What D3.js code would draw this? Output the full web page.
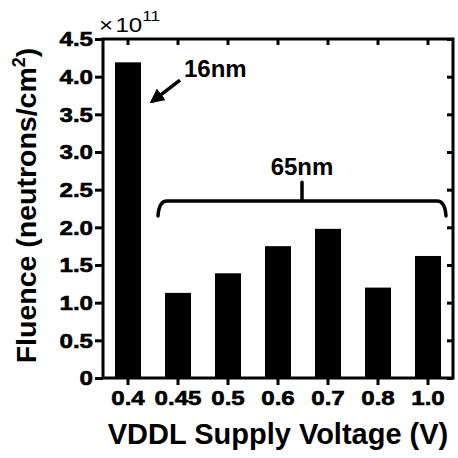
<!DOCTYPE html>
<html>
<head>
<meta charset="utf-8">
<script src="https://cdn.jsdelivr.net/npm/d3@7"></script>
<style>
  html, body { margin: 0; padding: 0; background: #fff; }
  svg { display: block; font-family: Arial, "Liberation Sans", Helvetica, sans-serif; }
</style>
</head>
<body>
<svg id="chart" width="458" height="458"></svg>
<script>
// Supply voltages (x categories) and measured fluence (×10^11 neutrons/cm²)
const voltages = ["0.4", "0.45", "0.5", "0.6", "0.7", "0.8", "1.0"];
const fluence  = [4.19, 1.13, 1.39, 1.75, 1.98, 1.20, 1.62];
const yTicks   = [0, 0.5, 1.0, 1.5, 2.0, 2.5, 3.0, 3.5, 4.0, 4.5];
const yTickLabels = ["0", "0.5", "1.0", "1.5", "2.0", "2.5", "3.0", "3.5", "4.0", "4.5"];

const svg = d3.select("#chart");
const m = { left: 103, right: 5, top: 39, bottom: 80 };
const W = 458, H = 458;
const x0 = m.left, x1 = W - m.right, y0 = H - m.bottom, y1 = m.top;

const x = d3.scaleBand().domain(voltages).range([x0, x1])
  .paddingInner(0.48).paddingOuter(0.24);
const y = d3.scaleLinear().domain([0, 4.5]).range([y0, y1]);

// bars
svg.append("g").selectAll("rect")
  .data(voltages.map((v, i) => ({ v, f: fluence[i] })))
  .join("rect")
  .attr("x", d => x(d.v))
  .attr("width", x.bandwidth())
  .attr("y", d => y(d.f))
  .attr("height", d => y(0) - y(d.f))
  .attr("fill", "#000");

const tickFont = 21;

// bottom axis (ticks outward) and top mirror (ticks inward)
const axB = svg.append("g").attr("transform", `translate(0,${y0})`)
  .call(d3.axisBottom(x).tickSize(7).tickPadding(5));
const axT = svg.append("g").attr("transform", `translate(0,${y1})`)
  .call(d3.axisBottom(x).tickSize(6).tickFormat(""));
// left axis (ticks outward) and right mirror (ticks inward)
const axL = svg.append("g").attr("transform", `translate(${x0},0)`)
  .call(d3.axisLeft(y).tickValues(yTicks).tickSize(8).tickPadding(2)
    .tickFormat((d, i) => yTickLabels[i]));
const axR = svg.append("g").attr("transform", `translate(${x1},0)`)
  .call(d3.axisLeft(y).tickValues(yTicks).tickSize(6).tickFormat(""));

[axB, axT, axL, axR].forEach(g => {
  g.attr("font-size", tickFont).attr("font-family", null);
  g.select(".domain").remove();
  g.selectAll(".tick line").attr("stroke", "#000").attr("stroke-width", 3);
  g.selectAll(".tick text").attr("fill", "#000")
    .attr("stroke", "#000").attr("stroke-width", 0.6)
    .attr("transform", "scale(1.15,1)")
    .style("font-size", tickFont + "px").style("font-weight", "bold");
});
// keep left labels flush against their tick marks after widening
axL.selectAll(".tick text").attr("x", -10 / 1.15);

// frame
svg.append("rect")
  .attr("x", x0).attr("y", y1).attr("width", x1 - x0).attr("height", y0 - y1)
  .attr("fill", "none").attr("stroke", "#000").attr("stroke-width", 3);

// axis titles
svg.append("text")
  .attr("x", (x0 + x1) / 2 + 0).attr("y", 444)
  .attr("text-anchor", "middle")
  .attr("font-size", 29).attr("font-weight", "bold")
  .text("VDDL Supply Voltage (V)");

const yl = svg.append("text")
  .attr("transform", `translate(36,${(y0 + y1) / 2 - 3}) rotate(-90)`)
  .attr("text-anchor", "middle")
  .attr("font-size", 28.5).attr("font-weight", "bold");
yl.append("tspan").text("Fluence (neutrons/cm");
yl.append("tspan").attr("font-size", 18).attr("dy", -11).text("2");
yl.append("tspan").attr("dy", 11).text(")");

// exponent label
const ex = svg.append("text").attr("transform", "translate(99,32) scale(1.15,1)")
  .attr("font-size", 21);
ex.append("tspan").text("\u00d7");
ex.append("tspan").attr("dx", 2).text("10");
ex.append("tspan").attr("font-size", 15).attr("dy", -11).text("11");

// 16nm arrow annotation
const headX = x(voltages[0]) + x.bandwidth() + 9, headY = y(3.65);
const tailX = headX + 30, tailY = headY - 23;
svg.append("defs").append("marker")
  .attr("id", "ah").attr("viewBox", "0 0 10 10").attr("refX", 8).attr("refY", 5)
  .attr("markerWidth", 4.2).attr("markerHeight", 4.2).attr("orient", "auto")
  .append("path").attr("d", "M0,0 L10,5 L0,10 z").attr("fill", "#000");
svg.append("line")
  .attr("x1", tailX).attr("y1", tailY).attr("x2", headX + 2).attr("y2", headY - 1.5)
  .attr("stroke", "#000").attr("stroke-width", 3.5).attr("marker-end", "url(#ah)");
svg.append("text").attr("x", 184).attr("y", 77)
  .attr("font-size", 24).attr("font-weight", "bold").text("16nm");

// 65nm bracket over the 65nm bars
const bY = y(2.35), pipY = y(2.6);
const bL = x(voltages[1]) + x.bandwidth() / 2 - 13;
const bR = x(voltages[6]) + x.bandwidth() / 2 + 11;
const bMid = (bL + bR) / 2;
const bp = d3.path();
bp.moveTo(bL - 7, bY + 15);
bp.quadraticCurveTo(bL - 6, bY, bL + 2, bY);
bp.lineTo(bR - 2, bY);
bp.quadraticCurveTo(bR + 6, bY, bR + 7, bY + 15);
bp.moveTo(bMid, bY);
bp.lineTo(bMid, pipY);
svg.append("path").attr("d", bp.toString())
  .attr("fill", "none").attr("stroke", "#000").attr("stroke-width", 3.5)
  .attr("stroke-linecap", "round");
svg.append("text").attr("x", bMid).attr("y", 175)
  .attr("text-anchor", "middle")
  .attr("font-size", 24).attr("font-weight", "bold").text("65nm");
</script>
</body>
</html>
